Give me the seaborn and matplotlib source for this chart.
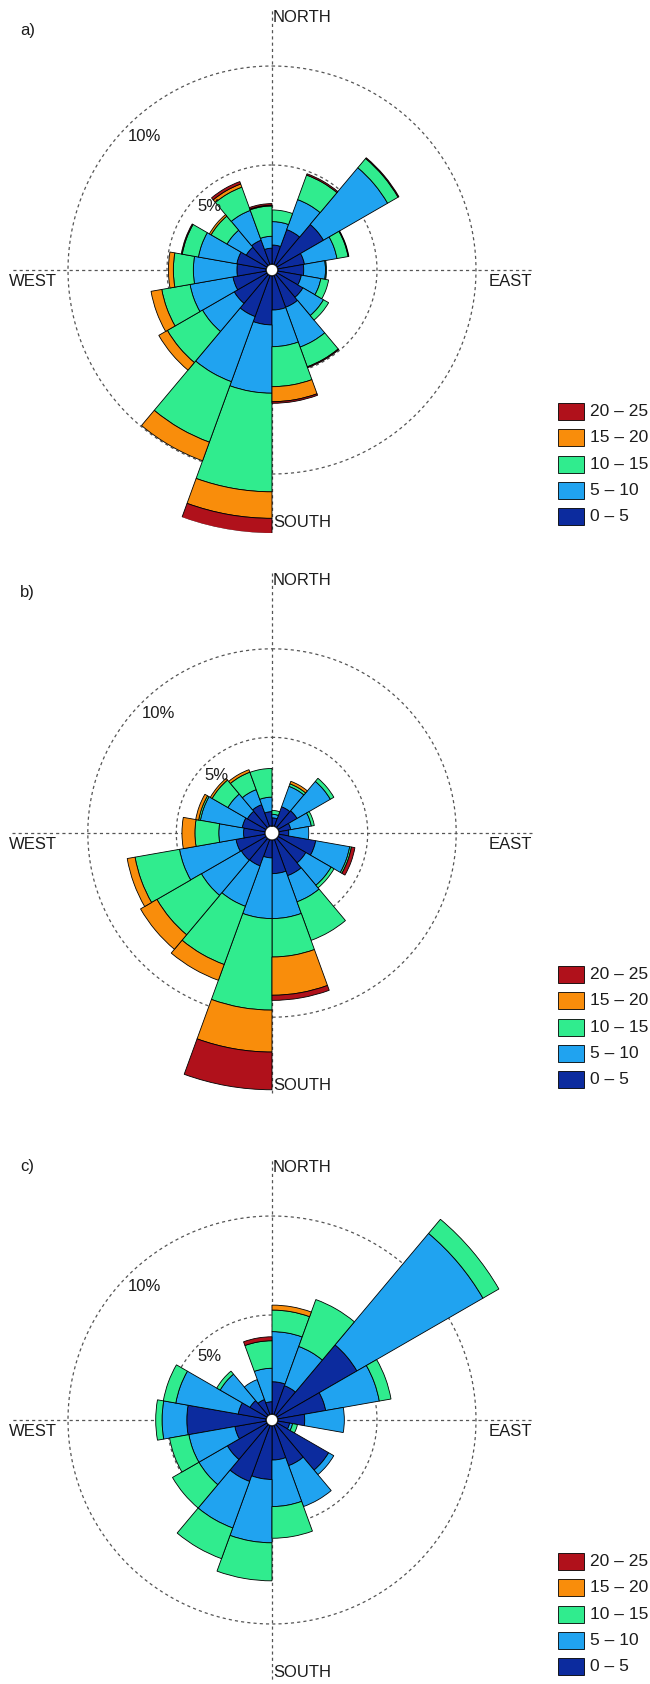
import numpy as np
import matplotlib
matplotlib.use("Agg")
import matplotlib.pyplot as plt
from matplotlib.patches import Rectangle
import seaborn as sns

sns.set_theme(style="white")
plt.rcParams["font.family"] = ["Liberation Sans", "DejaVu Sans"]

# ---------------------------------------------------------------------------
# Wind-rose data: frequency (%) per 20-degree direction sector (clockwise from
# north, sector i spans [20*i, 20*i + 20]) for each wind-speed class.
# ---------------------------------------------------------------------------
speed_labels = ["0 \u2013 5", "5 \u2013 10", "10 \u2013 15", "15 \u2013 20", "20 \u2013 25"]
speed_colors = ["#0c2b9e", "#20a3f0", "#30ec8e", "#f98d0b", "#b0111b"]
sector_start_deg = [0, 20, 40, 60, 80, 100, 120, 140, 160,
                    180, 200, 220, 240, 260, 280, 300, 320, 340]

a_0_5 = [0.96, 1.87, 2.70, 1.36, 1.30, 1.20, 1.50, 1.70, 1.72, 2.47, 2.20, 1.90, 1.70, 1.47, 1.50, 1.20, 1.30, 0.80]
a_5_10 = [1.18, 1.61, 3.74, 1.67, 1.10, 1.00, 1.20, 2.14, 1.85, 3.45, 3.50, 1.85, 2.20, 2.20, 1.97, 1.12, 1.60, 0.60]
a_10_15 = [0.59, 1.32, 0.61, 0.57, 0.05, 0.40, 0.30, 1.06, 2.02, 4.98, 3.25, 2.05, 1.45, 1.01, 0.83, 0.93, 1.25, 1.53]
a_15_20 = [0, 0, 0, 0, 0, 0, 0, 0, 0.76, 1.34, 1.00, 0.50, 0.55, 0.25, 0, 0.10, 0.17, 0.04]
a_20_25 = [0, 0.07, 0.05, 0.04, 0, 0, 0, 0.05, 0.08, 0.76, 0, 0, 0, 0, 0.05, 0, 0.13, 0.08]

b_0_5 = [0.45, 1.17, 1.23, 0.67, 0.54, 2.10, 1.80, 2.16, 1.89, 1.00, 1.57, 1.60, 1.66, 1.20, 1.30, 1.20, 1.30, 0.80]
b_5_10 = [0.20, 1.23, 2.17, 1.18, 1.13, 1.95, 1.65, 1.57, 2.54, 3.43, 2.43, 2.60, 3.24, 1.40, 2.40, 1.27, 0.90, 0.82]
b_10_15 = [0.22, 0.15, 0.23, 0.17, 0, 0.10, 0.19, 2.32, 2.17, 5.17, 3.50, 2.90, 2.55, 1.35, 0.10, 1.03, 1.05, 1.62]
b_15_20 = [0, 0.15, 0, 0, 0, 0, 0, 0, 2.16, 2.37, 0.95, 1.07, 0.45, 0.73, 0.17, 0.12, 0.15, 0]
b_20_25 = [0, 0, 0, 0, 0, 0.20, 0, 0, 0.29, 2.13, 0, 0, 0, 0, 0, 0, 0, 0]

c_0_5 = [1.63, 1.54, 4.65, 2.45, 1.35, 0.60, 3.00, 2.15, 1.72, 2.70, 3.00, 2.30, 1.60, 4.00, 1.43, 0.98, 0.80, 0.62]
c_5_10 = [2.53, 2.11, 7.35, 2.75, 2.00, 0.15, 0.30, 2.20, 2.35, 3.20, 2.50, 1.66, 2.36, 1.25, 3.20, 1.74, 1.07, 1.69]
c_10_15 = [1.09, 2.52, 0.93, 0.60, 0, 0.25, 0, 0, 1.60, 1.92, 1.65, 1.54, 0.99, 0.32, 0.64, 0.20, 0, 1.39]
c_15_20 = [0.25, 0, 0, 0, 0, 0, 0, 0, 0, 0, 0, 0, 0, 0, 0, 0, 0, 0]
c_20_25 = [0, 0, 0, 0, 0, 0, 0, 0, 0, 0, 0, 0, 0, 0, 0, 0, 0, 0.20]

ring_values = [5, 10]

panels = [
    dict(tag="a)", data=[a_0_5, a_5_10, a_10_15, a_15_20, a_20_25],
         cy=270, hole=6.0, px_per_pct=19.8, tag_dy=-239),
    dict(tag="b)", data=[b_0_5, b_5_10, b_10_15, b_15_20, b_20_25],
         cy=833, hole=7.2, px_per_pct=17.7, tag_dy=-241),
    dict(tag="c)", data=[c_0_5, c_5_10, c_10_15, c_15_20, c_20_25],
         cy=1420, hole=6.0, px_per_pct=19.8, tag_dy=-253),
]

# ---------------------------------------------------------------------------
W, H = 650, 1684
fig = plt.figure(figsize=(W / 100, H / 100), dpi=100)
fig.patch.set_facecolor("white")

CX = 272          # horizontal centre of every rose (px)
R_AX = 263        # radius of the polar axes (px)
R_LINE = 260      # half-length of the compass cross (px)
TXT = "#1c1c1c"
FS = 12
FS_LEG = 12.5


def fx(x):
    return x / W


def fy(y):
    return 1 - y / H


theta = np.deg2rad(np.array(sector_start_deg) + 10.0)
width = np.deg2rad(20.0)

for p in panels:
    cy, hole, k = p["cy"], p["hole"], p["px_per_pct"]
    rmax = (R_AX - hole) / k
    ax = fig.add_axes([fx(CX - R_AX), fy(cy + R_AX), 2 * R_AX / W, 2 * R_AX / H],
                      projection="polar")
    ax.set_theta_zero_location("N")
    ax.set_theta_direction(-1)
    ax.set_rlim(0, rmax)
    ax.set_rorigin(-hole / k)
    ax.set_facecolor("none")
    ax.grid(False)
    ax.set_xticks([])
    ax.set_yticks([])
    for sp in ax.spines.values():
        sp.set_visible(False)

    # dashed reference rings and compass cross
    th = np.linspace(0, 2 * np.pi, 500)
    for rv in ring_values:
        ax.plot(th, np.full_like(th, rv), color="#555555", lw=0.9,
                ls=(0, (2.5, 2.5)), zorder=1)
    r_cross = (R_LINE - hole) / k
    for ang in (0, 0.5 * np.pi, np.pi, 1.5 * np.pi):
        ax.plot([ang, ang], [0, r_cross], color="#555555", lw=0.9,
                ls=(0, (2.5, 2.5)), zorder=1)

    # stacked petals
    bottom = np.zeros(len(theta))
    for vals, col in zip(p["data"], speed_colors):
        vals = np.asarray(vals, dtype=float)
        m = vals > 0
        ax.bar(theta[m], vals[m], width=width, bottom=bottom[m], color=col,
               edgecolor="black", linewidth=0.6, align="center", zorder=3)
        bottom = bottom + vals

    # compass labels
    top, bot = cy - R_LINE, cy + R_LINE
    fig.text(fx(CX + 1), fy(top), "NORTH", ha="left", va="top",
             fontsize=FS, color=TXT)
    fig.text(fx(CX + 1), fy(bot), "SOUTH", ha="left", va="bottom",
             fontsize=FS, color=TXT)
    fig.text(fx(CX - R_LINE - 3), fy(cy + 4), "WEST", ha="left", va="top",
             fontsize=FS, color=TXT)
    fig.text(fx(CX + R_LINE), fy(cy + 4), "EAST", ha="right", va="top",
             fontsize=FS, color=TXT)

    # ring labels placed at the north-west point of each ring
    for rv in ring_values:
        rpx = hole + k * rv
        d = rpx * np.sqrt(0.5)
        fig.text(fx(CX - d), fy(cy - d + 3), f"{rv}%", ha="left", va="top",
                 fontsize=FS, color=TXT)

    # panel tag
    fig.text(fx(20), fy(cy + p["tag_dy"]), p["tag"], ha="left", va="center",
             fontsize=FS, color=TXT)

    # speed legend (top entry is the fastest class)
    for i, (lab, col) in enumerate(zip(speed_labels[::-1], speed_colors[::-1])):
        ytop = cy + 133 + i * 26.3
        fig.add_artist(Rectangle((fx(558), fy(ytop + 17)), 26 / W, 17 / H,
                                 transform=fig.transFigure, facecolor=col,
                                 edgecolor="black", linewidth=0.6))
        fig.text(fx(590), fy(ytop + 8.5), lab, ha="left", va="center",
                 fontsize=FS_LEG, color=TXT)

fig.savefig("out.png", dpi=100, facecolor="white")
